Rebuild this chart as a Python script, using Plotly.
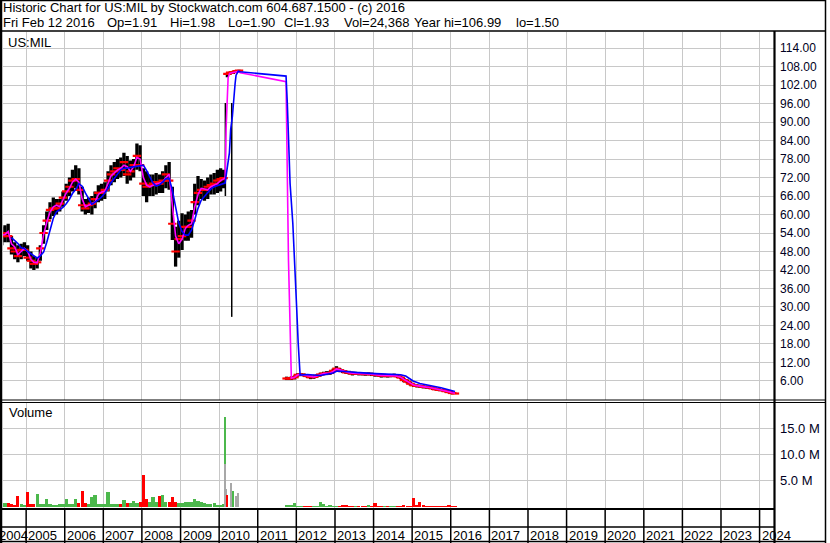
import plotly.graph_objects as go

W, H = 830, 543
def px(x): return x / W
def py(y): return 1 - y / H

FONT = "Liberation Sans, Arial, sans-serif"

# ---------------- Period 1 (Millipore, 2004-2010), monthly bars ----------------
p1_dates = [
    "2004-05-15","2004-06-15","2004-07-15","2004-08-15","2004-09-15","2004-10-15","2004-11-15","2004-12-15",
    "2005-01-15","2005-02-15","2005-03-15","2005-04-15","2005-05-15","2005-06-15","2005-07-15","2005-08-15","2005-09-15","2005-10-15","2005-11-15","2005-12-15",
    "2006-01-15","2006-02-15","2006-03-15","2006-04-15","2006-05-15","2006-06-15","2006-07-15","2006-08-15","2006-09-15","2006-10-15","2006-11-15","2006-12-15",
    "2007-01-15","2007-02-15","2007-03-15","2007-04-15","2007-05-15","2007-06-15","2007-07-15","2007-08-15","2007-09-15","2007-10-15","2007-11-15","2007-12-15",
    "2008-01-15","2008-02-15","2008-03-15","2008-04-15","2008-05-15","2008-06-15","2008-07-15","2008-08-15","2008-09-15","2008-10-15","2008-11-15","2008-12-15",
    "2009-01-15","2009-02-15","2009-03-15","2009-04-15","2009-05-15","2009-06-15","2009-07-15","2009-08-15","2009-09-15","2009-10-15","2009-11-15","2009-12-15",
    "2010-01-15","2010-02-12",
]
p1_close = [53, 54, 53, 49, 48, 46.5, 48.5, 48.5, 46, 45,
            44, 44.5, 49, 54, 58, 61.5, 62, 62, 63.5, 65.5,
            67.5, 69, 71, 71.5, 68, 63, 62, 63, 63.5, 65,
            67, 67, 68, 71, 73, 74, 75, 74.5, 77, 73,
            74, 76, 79, 76, 70, 69, 69.5, 70, 70.5, 70,
            71, 73, 71, 57, 48, 52, 53, 56, 56, 58,
            64, 67, 68, 68, 69, 69.5, 70, 71, 71.5, 71.8]
p1_high = [56, 56.5, 57, 53, 51, 50, 50.5, 51, 50, 48,
           46.5, 46, 50, 56.5, 61, 64, 65.5, 65, 65, 67.5,
           70, 72, 74.5, 76, 75, 69, 65, 65.5, 66, 67.5,
           69.5, 70, 70.5, 74, 76, 77, 78, 78.5, 80, 79,
           77.5, 78, 83, 82.5, 75, 74, 73, 73, 73.5, 73,
           74, 76, 77, 69, 56, 58, 60.4, 60, 61, 61.5,
           70, 72.5, 71.5, 71, 72, 73, 73.5, 74.5, 75, 74.5]
p1_low = [50, 51, 51, 47, 45.5, 44.5, 45.5, 46.5, 45, 42.5,
          42, 42.5, 45, 50.5, 55, 58.5, 59.5, 60, 61, 62.5,
          64.5, 66, 67.5, 68.5, 66.5, 61, 60, 60.5, 60, 62,
          64, 64.5, 65, 67.5, 69.5, 70.5, 71.5, 72, 72.5, 70,
          71, 72, 74.5, 74, 66, 64, 66, 66, 66.5, 67,
          67, 68.5, 68, 51.7, 43.1, 46, 48.5, 51.5, 51.5, 52.5,
          60, 63, 65, 64.5, 65, 66.5, 66.5, 67, 67.5, 68.5]
p1_vol = [0.4, 0.8, 0.8, 0.6, 0.4, 2.0, 0.6, 0.4, 2.9, 0.6,
          0.5, 2.5, 0.5, 0.5, 1.5, 0.5, 0.4, 0.4, 0.6, 0.5,
          1.5, 0.6, 0.5, 1.5, 0.8, 3.1, 0.7, 0.5, 1.8, 2.2,
          0.5, 0.6, 0.6, 2.8, 0.6, 0.6, 0.6, 0.6, 1.4, 0.8,
          0.8, 1.2, 0.8, 0.9, 6.2, 1.5, 0.9, 1.8, 1.0, 2.1,
          2.2, 1.0, 1.0, 1.8, 0.9, 0.7, 0.8, 1.0, 1.0, 1.0,
          1.5, 1.2, 1.0, 0.7, 0.6, 0.6, 0.7, 0.4, 0.4, 0.5]
p1_ma_fast = [53.3, 53.5, 54.5, 50.5, 49.5, 47.0, 48.0, 49.0, 48.0, 45.5,
              44.5, 44.3, 47.5, 53.5, 57.5, 60.8, 62.5, 63.0, 62.5, 65.0,
              67.0, 68.5, 70.5, 71.5, 70.5, 65.0, 62.5, 63.0, 63.5, 64.0,
              66.5, 67.3, 67.5, 70.0, 72.5, 73.5, 74.4, 75.0, 76.0, 75.5,
              74.0, 75.5, 78.5, 78.0, 72.0, 69.5, 69.0, 69.5, 70.0, 70.2,
              70.5, 72.0, 73.0, 63.0, 53.0, 50.5, 52.0, 55.5, 56.5, 57.0,
              62.5, 66.5, 68.5, 68.3, 68.0, 69.0, 69.5, 70.0, 71.0, 71.5]
# slow average starts with the 4th monthly bar (Aug 2004)
p1_ma_slow = [52.5, 51.5, 50.6, 49.2, 49.0, 48.0, 47.2, 46.4, 45.9, 46.6,
              47.8, 51.0, 55.0, 58.8, 60.9, 61.6, 62.3, 63.5, 65.0, 66.8,
              68.2, 70.0, 69.2, 67.0, 65.0, 63.3, 64.0, 64.7, 65.6, 67.0,
              68.5, 70.3, 71.8, 73.2, 74.5, 75.0, 75.0, 75.3, 75.5, 75.5,
              75.8, 76.0, 74.2, 72.3, 70.2, 69.2, 69.6, 70.5, 71.6, 71.7,
              68.0, 62.5, 57.2, 54.5, 53.3, 53.3, 55.0, 58.3, 62.0, 64.6,
              65.8, 67.2, 68.3, 69.0, 69.3, 69.8, 70.0]

# after the takeover bid (Mar-Jul 2010)
p1b_dates = ["2010-03-20", "2010-04-15", "2010-05-15", "2010-06-15", "2010-07-08"]
p1b_close = [105.6, 106.0, 106.2, 106.5, 106.7]
p1b_high = [106.0, 106.4, 106.6, 106.8, 106.99]
p1b_low = [104.5, 105.4, 105.6, 105.9, 106.2]

# single odd daily bars
odd_dates = ["2010-03-01", "2010-04-30"]
odd_low = [66.0, 26.8]
odd_high = [96.2, 96.2]

# busy days of 2010 (volume, millions)
spike_dates = ["2010-03-01", "2010-03-01", "2010-03-10", "2010-03-18", "2010-04-22", "2010-05-15", "2010-06-08", "2010-06-28"]
spike_vol = [17.3, 8.3, 3.5, 2.3, 4.6, 3.0, 2.1, 2.6]
spike_dir = ["up", "flat", "flat", "down", "flat", "up", "flat", "flat"]

# moving averages through the jump and the gap
jump_fast_dates = ["2010-02-26", "2010-03-08", "2010-03-19", "2010-03-27", "2010-04-10", "2010-05-25", "2010-07-01", "2010-07-20",
                   "2011-09-26", "2011-10-19", "2011-11-03", "2011-11-10"]
jump_fast = [71.8, 88.0, 98.0, 104.5, 105.8, 106.2, 106.4, 106.0, 103.1, 45.2, 21.6, 7.0]
jump_slow_dates = ["2010-02-26", "2010-04-08", "2010-04-20", "2010-05-06", "2010-05-16", "2010-06-01", "2010-06-10", "2010-07-02",
                   "2010-07-18", "2011-04-12", "2011-09-26", "2011-10-08", "2011-10-16", "2011-11-03", "2011-11-29",
                   "2011-12-20", "2012-01-04", "2012-01-19", "2012-02-06"]
jump_slow = [70.2, 80.0, 87.6, 91.7, 97.1, 102.5, 105.2, 106.5, 106.3, 105.3, 104.9, 96.1, 86.3, 70.1, 57.1,
             43.1, 30.1, 18.2, 7.9]

# ---------------- Period 2 (2011-2016), monthly bars ----------------
p2_dates = [
    "2011-10-01","2011-10-25","2011-11-15","2011-12-15",
    "2012-01-15","2012-02-15","2012-03-15","2012-04-15","2012-05-15","2012-06-15","2012-07-15","2012-08-15","2012-09-15","2012-10-15","2012-11-15","2012-12-15",
    "2013-01-15","2013-02-15","2013-03-15","2013-04-15","2013-05-15","2013-06-15","2013-07-15","2013-08-15","2013-09-15","2013-10-15","2013-11-15","2013-12-15",
    "2014-01-15","2014-02-15","2014-03-15","2014-04-15","2014-05-15","2014-06-15","2014-07-15","2014-08-15","2014-09-15","2014-10-15","2014-11-15","2014-12-15",
    "2015-01-15","2015-02-15","2015-03-15","2015-04-15","2015-05-15","2015-06-15","2015-07-15","2015-08-15","2015-09-15","2015-10-15","2015-11-15","2015-12-15",
    "2016-01-15","2016-02-10",
]
p2_close = [6.8, 6.8, 6.9, 7.2,
            8.0, 8.1, 7.9, 7.6, 7.2, 7.3, 7.7, 8.1, 8.4, 8.5, 8.6, 9.3,
            10.0, 9.5, 9.2, 8.8, 8.7, 8.4, 8.5, 8.4, 8.3, 8.2, 8.3, 8.2,
            8.0, 7.9, 7.7, 7.8, 7.6, 7.7, 7.8, 7.5, 7.1, 6.3, 5.8, 5.1,
            4.6, 4.4, 4.3, 4.1, 4.0, 3.9, 3.6, 3.3, 3.1, 3.0, 2.7, 2.4,
            2.1, 1.93]
p2_high = [7.4, 7.3, 7.5, 7.8,
           8.5, 8.6, 8.4, 8.1, 7.8, 7.8, 8.2, 8.7, 9.0, 9.2, 9.3, 10.0,
           10.8, 10.2, 9.7, 9.4, 9.3, 9.0, 9.0, 8.9, 8.8, 8.7, 8.8, 8.7,
           8.6, 8.5, 8.2, 8.3, 8.1, 8.3, 8.4, 8.1, 7.7, 7.0, 6.5, 5.8,
           5.2, 4.9, 4.8, 4.6, 4.5, 4.4, 4.1, 3.8, 3.6, 3.4, 3.1, 2.8,
           2.4, 1.98]
p2_low = [6.3, 6.3, 6.3, 6.5,
          7.4, 7.6, 7.4, 7.0, 6.6, 6.7, 7.1, 7.5, 7.9, 7.9, 8.0, 8.6,
          9.3, 8.9, 8.6, 8.3, 8.1, 7.8, 8.0, 7.8, 7.8, 7.7, 7.8, 7.6,
          7.4, 7.4, 7.1, 7.2, 7.1, 7.2, 7.3, 7.0, 6.6, 5.6, 5.2, 4.5,
          4.1, 3.9, 3.8, 3.6, 3.5, 3.4, 3.1, 2.9, 2.7, 2.6, 2.3, 2.0,
          1.7, 1.90]
p2_vol = [0.25, 0.4, 0.3, 0.8,
          0.15, 0.1, 0.15, 0.1, 0.1, 0.1, 0.15, 1.0, 0.6, 0.15, 0.2, 0.1,
          0.15, 0.1, 0.25, 0.25, 0.1, 0.15, 0.15, 0.1, 0.1, 0.15, 0.4, 0.1,
          0.8, 0.15, 0.15, 0.1, 0.1, 0.1, 0.1, 0.1, 0.15, 0.2, 0.15, 0.1,
          1.7, 0.2, 1.0, 0.2, 0.15, 0.15, 0.15, 0.15, 0.15, 0.15, 0.15, 0.3,
          0.1, 0.05]
# fast average from Nov 2011 (3rd bar) on
p2_ma_fast = [6.9, 7.2,
              8.0, 8.1, 7.9, 7.6, 7.3, 7.3, 7.6, 8.0, 8.4, 8.5, 8.6, 9.1,
              9.9, 9.6, 9.3, 8.9, 8.7, 8.5, 8.5, 8.4, 8.3, 8.3, 8.3, 8.2,
              8.0, 7.9, 7.8, 7.8, 7.7, 7.7, 7.8, 7.6, 7.2, 6.5, 5.9, 5.2,
              4.7, 4.5, 4.3, 4.2, 4.0, 3.9, 3.7, 3.4, 3.2, 3.0, 2.8, 2.5,
              2.2, 2.0]
p2_slow_dates = ["2012-04-15", "2012-06-15", "2012-08-15", "2012-10-15", "2012-12-15", "2013-01-20", "2013-03-15",
                 "2013-05-15", "2013-07-15", "2013-09-15", "2013-11-15", "2014-01-15", "2014-03-15", "2014-05-15",
                 "2014-07-15", "2014-09-15", "2014-11-01", "2015-01-10", "2015-03-15", "2015-06-15", "2015-08-15",
                 "2015-10-01", "2015-12-20", "2016-02-10"]
p2_slow = [8.1, 7.9, 7.8, 8.2, 8.6, 9.2, 9.2, 9.0, 8.8, 8.6, 8.5, 8.4, 8.3, 8.2,
           8.1, 8.0, 7.6, 6.0, 5.2, 4.6, 4.1, 3.8, 3.1, 2.6]

years = list(range(2005, 2025))
price_ticks = list(range(6, 115, 6))
vol_ticks = [5, 10, 15]

title_line = "Historic Chart for US:MIL by Stockwatch.com 604.687.1500 - (c) 2016"
quote_fields = ["Fri Feb 12 2016", "Op=1.91", "Hi=1.98", "Lo=1.90", "Cl=1.93", "Vol=24,368", "Year hi=106.99", "lo=1.50"]
quote_field_px = [2, 106, 169, 227, 283, 343, 413, 515]   # left edge of each header field (pixels)

assert len(p1_dates) == len(p1_close) == len(p1_high) == len(p1_low) == len(p1_vol) == len(p1_ma_fast)
assert len(p1_ma_slow) == len(p1_dates) - 3
assert len(p2_dates) == len(p2_close) == len(p2_high) == len(p2_low) == len(p2_vol)
assert len(p2_ma_fast) == len(p2_dates) - 2

# ---------------- build marks ----------------
def bars(dates, highs, lows):
    xs, ys = [], []
    for d, h, l in zip(dates, highs, lows):
        xs += [d, d, None]
        ys += [l, h, None]
    return xs, ys

def directions(closes):
    out, prev = [], None
    for c in closes:
        out.append("up" if prev is None or c >= prev else "down")
        prev = c
    return out

bx, by = bars(p1_dates + p1b_dates + p2_dates, p1_high + p1b_high + p2_high, p1_low + p1b_low + p2_low)
ox, oy = bars(odd_dates, odd_high, odd_low)
close_x = p1_dates + p1b_dates + p2_dates
close_y = p1_close + p1b_close + p2_close

VOLC = {"up": "#4cb84c", "down": "#ff0000", "flat": "#a8a8a8"}

fig = go.Figure()
fig.add_trace(go.Scatter(x=bx, y=by, mode="lines", line=dict(color="#000000", width=3.3),
                         xaxis="x", yaxis="y", hoverinfo="skip"))
fig.add_trace(go.Scatter(x=ox, y=oy, mode="lines", line=dict(color="#000000", width=1.5),
                         xaxis="x", yaxis="y", hoverinfo="skip"))
fig.add_trace(go.Scatter(x=close_x, y=close_y, mode="markers",
                         marker=dict(symbol="line-ew", size=6, line=dict(color="#ff0000", width=2.2)),
                         xaxis="x", yaxis="y", hoverinfo="skip"))
fast_x = p1_dates + jump_fast_dates + p2_dates[2:]
fast_y = p1_ma_fast + jump_fast + p2_ma_fast
slow_x = p1_dates[3:] + jump_slow_dates + p2_slow_dates
slow_y = p1_ma_slow + jump_slow + p2_slow
fig.add_trace(go.Scatter(x=fast_x, y=fast_y, mode="lines", line=dict(color="#ff00ff", width=1.6),
                         xaxis="x", yaxis="y", hoverinfo="skip"))
fig.add_trace(go.Scatter(x=slow_x, y=slow_y, mode="lines", line=dict(color="#0000ff", width=1.6),
                         xaxis="x", yaxis="y", hoverinfo="skip"))

# volume
month_ms = 30 * 86400000
vd = p1_dates + p2_dates
vv = p1_vol + p2_vol
vdir = directions(p1_close) + directions(p2_close)
fig.add_trace(go.Bar(x=vd, y=vv, width=[month_ms] * len(vd),
                     marker=dict(color=[VOLC[d] for d in vdir], line=dict(width=0)),
                     xaxis="x2", yaxis="y2", hoverinfo="skip"))
fig.add_trace(go.Bar(x=spike_dates, y=spike_vol, width=[16 * 86400000] * len(spike_dates),
                     marker=dict(color=[VOLC[d] for d in spike_dir], line=dict(width=0)),
                     xaxis="x2", yaxis="y2", hoverinfo="skip"))

GRID = "#c8c8c8"
X0, X1 = 3, 775
xcommon = dict(domain=[px(X0), px(X1)], type="date", range=["2004-05-27", "2024-05-26"],
               showgrid=True, gridcolor=GRID, gridwidth=1, dtick="M12", tick0="2005-01-01",
               showticklabels=False, ticks="", zeroline=False, showline=False, fixedrange=True)

fig.update_layout(
    width=W, height=H, margin=dict(l=0, r=0, t=0, b=0),
    paper_bgcolor="white", plot_bgcolor="white", showlegend=False,
    barmode="overlay", bargap=0,
    font=dict(family=FONT, color="#000000"),
    xaxis=dict(anchor="y", **xcommon),
    xaxis2=dict(anchor="y2", matches="x", **xcommon),
    yaxis=dict(domain=[py(400), py(31.7)], range=[-0.17, 119.3], side="right", anchor="x",
               tickvals=price_ticks, ticktext=[f"{v:.2f}" for v in price_ticks],
               showgrid=True, gridcolor=GRID, gridwidth=1, ticks="", zeroline=False,
               tickfont=dict(size=12, color="#000022", family=FONT), ticklabelstandoff=4, fixedrange=True),
    yaxis2=dict(domain=[py(509), py(402.5)], range=[-0.52, 19.96], side="right", anchor="x2",
                tickvals=vol_ticks, ticktext=[f"{v:.1f} M" for v in vol_ticks],
                showgrid=True, gridcolor=GRID, gridwidth=1, ticks="", zeroline=False,
                tickfont=dict(size=13, color="#000022", family=FONT), ticklabelstandoff=4, fixedrange=True),
)

shapes = []
def hline(y, x0, x1, w=1.2):
    shapes.append(dict(type="line", xref="paper", yref="paper", x0=px(x0), x1=px(x1), y0=py(y), y1=py(y),
                       line=dict(color="black", width=w)))
def vline(x, y0, y1, w=1.2):
    shapes.append(dict(type="line", xref="paper", yref="paper", x0=px(x), x1=px(x), y0=py(y0), y1=py(y1),
                       line=dict(color="black", width=w)))

# outer frame
hline(0.5, 0, 826, 1.5)
hline(541.5, 0, 826, 1.5)
vline(1, 0, 543, 2.5)
vline(825.5, 0, 543, 1.5)
# header separator and panel borders
hline(31, 0, 826, 1.5)
hline(400, 0, 826, 1.2)
hline(402.5, 0, 826, 1.2)
hline(509, 0, 775, 2.2)
hline(527, 0, 775, 1.5)
vline(774.5, 31, 543, 2.2)
# year separators in the date strip
for yv in years:
    shapes.append(dict(type="line", xref="x", yref="paper", x0=f"{yv}-01-01", x1=f"{yv}-01-01",
                       y0=py(543), y1=py(509), line=dict(color="black", width=1.5)))

def label(text, x, y, size=13):
    return dict(text=text, xref="paper", yref="paper", x=px(x), y=py(y), xanchor="left", yanchor="middle",
                showarrow=False, borderpad=0, font=dict(size=size, family=FONT, color="black"))

annotations = [label(title_line, 2, 7.2)]
for t, xp in zip(quote_fields, quote_field_px):
    annotations.append(label(t, xp, 22.3))
annotations += [label("US:MIL", 7, 42), label("Volume", 8, 413), label("2004", -2, 535)]
for yv in years:
    annotations.append(dict(text=str(yv), xref="x", yref="paper", x=f"{yv}-01-01", y=py(535),
                            xanchor="left", yanchor="middle", xshift=1, showarrow=False, borderpad=0,
                            font=dict(size=13, family=FONT, color="black")))

fig.update_layout(shapes=shapes, annotations=annotations)
fig.write_html("out.html", config={"displayModeBar": False},
               post_script="document.body.style.margin='0';document.body.style.overflow='hidden';")
